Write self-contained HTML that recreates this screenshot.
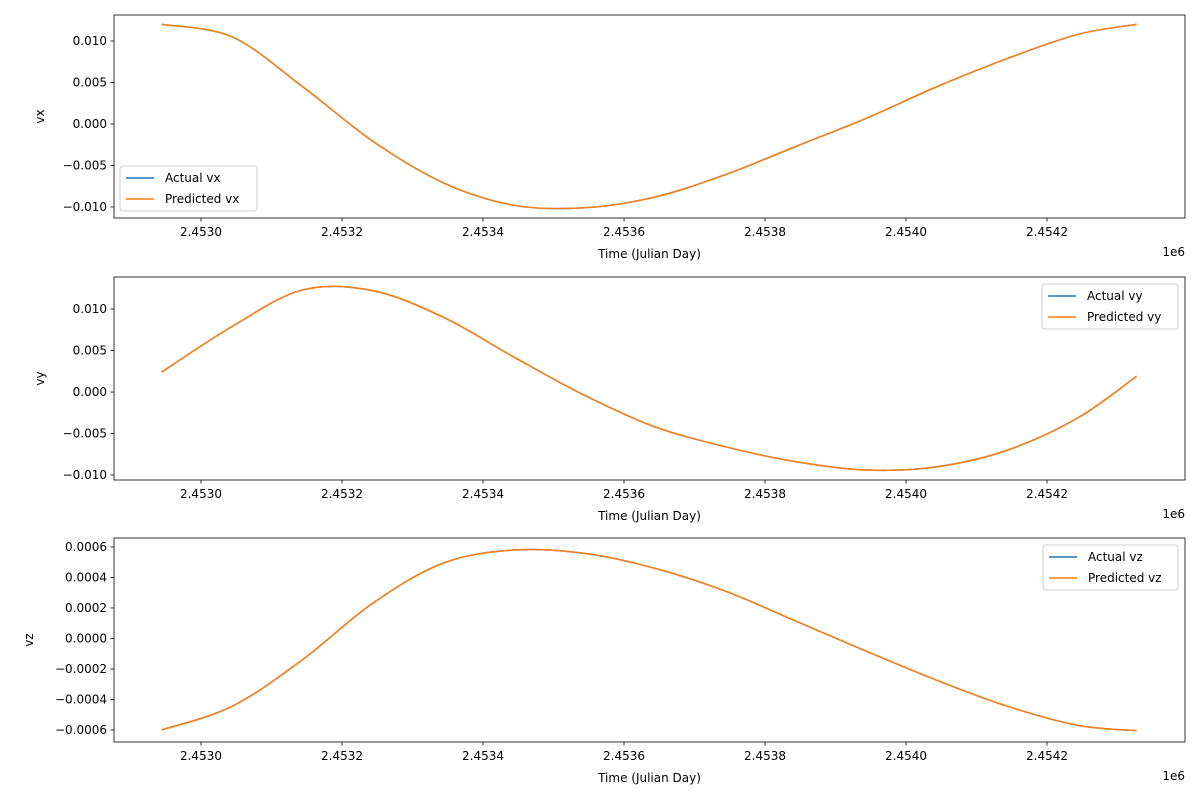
<!DOCTYPE html>
<html><head><meta charset="utf-8"><style>
body{margin:0;background:#fff;font-family:"Liberation Sans","DejaVu Sans",sans-serif}
svg text{font-family:"DejaVu Sans","Liberation Sans",sans-serif;font-size:12px;fill:#000}
</style></head><body>
<svg id="c" width="1200" height="800"></svg>
<script>
const days=[2452944,2453044,2453144,2453244,2453344,2453444,2453544,2453644,2453744,2453844,2453944,2454044,2454144,2454244,2454327];
const actualVx=[0.0120,0.0105,0.0045,-0.0021,-0.0071,-0.0098,-0.0101,-0.0088,-0.0061,-0.0027,0.0007,0.0045,0.0079,0.0108,0.0120];
const predVx=actualVx.slice();
const actualVy=[0.0024,0.0079,0.0123,0.0122,0.0090,0.0042,-0.0004,-0.0042,-0.0066,-0.0084,-0.0094,-0.0090,-0.0070,-0.0031,0.0019];
const predVy=actualVy.slice();
const actualVz=[-0.000600,-0.000445,-0.000139,0.000233,0.000495,0.000580,0.000558,0.000460,0.000310,0.000113,-0.000084,-0.000275,-0.000445,-0.000570,-0.000605];
const predVz=actualVz.slice();
const xTicks=[2453000,2453200,2453400,2453600,2453800,2454000,2454200];
const xTickLabels=["2.4530","2.4532","2.4534","2.4536","2.4538","2.4540","2.4542"];
const vxTicks=[0.010,0.005,0,-0.005,-0.010];
const vxLabels=["0.010","0.005","0.000","−0.005","−0.010"];
const vyTicks=[0.010,0.005,0,-0.005,-0.010];
const vyLabels=["0.010","0.005","0.000","−0.005","−0.010"];
const vzTicks=[0.0006,0.0004,0.0002,0,-0.0002,-0.0004,-0.0006];
const vzLabels=["0.0006","0.0004","0.0002","0.0000","−0.0002","−0.0004","−0.0006"];

const NS="http://www.w3.org/2000/svg",svg=document.getElementById('c');
function el(t,a,p){const e=document.createElementNS(NS,t);for(const k in a)e.setAttribute(k,a[k]);(p||svg).appendChild(e);return e;}
const X0=114,X1=1185,xmin=2452876.6,xmax=2454395.7;
const xs=v=>X0+(v-xmin)/(xmax-xmin)*(X1-X0);
function path(xsA,ys){
  const p=xsA.map((x,i)=>[x,ys[i]]);let d="M"+p[0];
  for(let i=0;i<p.length-1;i++){const a=p[i-1]||p[i],b=p[i],c=p[i+1],e=p[i+2]||c;
    const c1=[b[0]+(c[0]-a[0])/6,b[1]+(c[1]-a[1])/6],c2=[c[0]-(e[0]-b[0])/6,c[1]-(e[1]-b[1])/6];
    d+=" C"+c1+" "+c2+" "+c;}
  return d;}
function panel(cfg){
  const g=el('g',{});
  const {top,bot,ymin,ymax}=cfg;const ys=v=>bot-(v-ymin)/(ymax-ymin)*(bot-top);
  el('rect',{x:X0,y:top,width:X1-X0,height:bot-top,fill:'#fff'},g);
  const sx=days.map(xs);
  const l1=el('path',{d:path(sx,cfg.a.map(ys)),fill:'none',stroke:'#1f77b4','stroke-width':1.5},g);
  
  const l2=el('path',{d:path(sx,cfg.p.map(ys)),fill:'none',stroke:'#ff7f0e','stroke-width':1.5},g);
  
  el('rect',{x:X0,y:top,width:X1-X0,height:bot-top,fill:'none',stroke:'#000','stroke-width':0.8},g);
  xTicks.forEach((t,i)=>{const x=xs(t);el('line',{x1:x,x2:x,y1:bot,y2:bot+3.5,stroke:'#000','stroke-width':0.8},g);
    const tx=el('text',{x:x,y:bot+18,'text-anchor':'middle'},g);tx.textContent=xTickLabels[i];
    });
  cfg.ticks.forEach((t,i)=>{const y=ys(t);el('line',{x1:X0,x2:X0-3.5,y1:y,y2:y,stroke:'#000','stroke-width':0.8},g);
    const tx=el('text',{x:X0-7,y:y+4,'text-anchor':'end'},g);tx.textContent=cfg.labels[i];
    });
  const xt=el('text',{x:(X0+X1)/2,y:bot+40,'text-anchor':'middle'},g);xt.textContent='Time (Julian Day)';
  
  const off=el('text',{x:X1,y:bot+38,'text-anchor':'end'},g);off.textContent='1e6';
  
  const yt=el('text',{x:cfg.ylx,y:(top+bot)/2,'text-anchor':'middle',transform:`rotate(-90 ${cfg.ylx} ${(top+bot)/2})`},g);yt.textContent=cfg.name;
  
  const lg=el('g',{},g);
  const [lx,ly,lw]=cfg.leg;
  el('rect',{x:lx,y:ly,width:lw,height:45,rx:3,fill:'#fff','fill-opacity':0.8,stroke:'#ccc'},lg);
  [['#1f77b4','Actual '+cfg.name],['#ff7f0e','Predicted '+cfg.name]].forEach((e,i)=>{
    const yy=ly+12+i*21;el('line',{x1:lx+6,x2:lx+34,y1:yy,y2:yy,stroke:e[0],'stroke-width':1.5},lg);
    const t=el('text',{x:lx+45,y:yy+4},lg);t.textContent=e[1];
    });
}
panel({name:'vx',top:15,bot:218,ymin:-0.01133,ymax:0.01313,a:actualVx,p:predVx,ticks:vxTicks,labels:vxLabels,ylx:44,leg:[120,166,137]});
panel({name:'vy',top:277,bot:480,ymin:-0.0106,ymax:0.01386,a:actualVy,p:predVy,ticks:vyTicks,labels:vyLabels,ylx:44,leg:[1042,284,136]});
panel({name:'vz',top:538,bot:742,ymin:-0.000679,ymax:0.000659,a:actualVz,p:predVz,ticks:vzTicks,labels:vzLabels,ylx:33,leg:[1043,545,135]});
</script>
</body></html>
